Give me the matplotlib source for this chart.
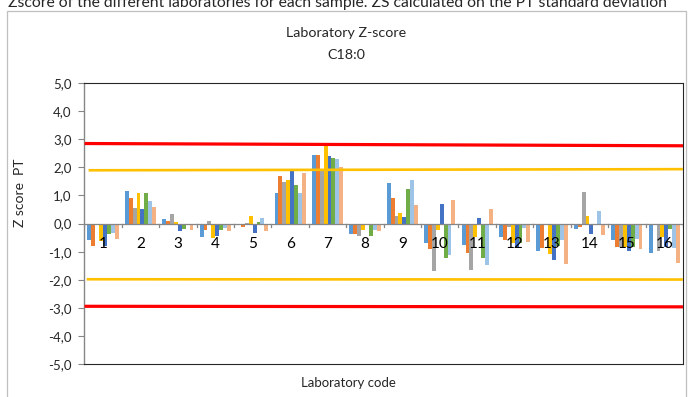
import numpy as np
import matplotlib.pyplot as plt
from matplotlib.patches import Rectangle

plt.rcParams['font.family'] = ['Lato', 'DejaVu Sans']

# samples (laboratory code on the x axis)
samples = [str(i) for i in range(1, 17)]

# one series per laboratory, 8 per sample group
lab_a = [-0.58, 1.15, 0.15, -0.49, 0.0, 1.08, 2.43, -0.37, 1.43, -0.70, -0.76, -0.49, -0.99, -0.18, -0.60, -1.04]
lab_b = [-0.79, 0.89, 0.08, -0.22, -0.14, 1.67, 2.43, -0.39, 0.92, -0.90, -1.03, -0.59, -0.88, -0.13, -0.84, 0.0]
lab_c = [-0.04, 0.56, 0.34, 0.09, 0.02, 1.48, 1.85, -0.46, 0.28, -1.69, -1.66, -0.12, -0.07, 1.11, -0.83, -0.98]
lab_d = [-0.62, 1.08, 0.07, -0.53, 0.25, 1.54, 2.76, -0.24, 0.36, -0.22, -0.47, -0.69, -1.08, 0.26, -0.83, -0.47]
lab_e = [-0.79, 0.51, -0.26, -0.46, -0.32, 1.85, 2.38, 0.0, 0.22, 0.71, 0.21, -0.83, -1.28, -0.37, -0.97, -0.83]
lab_f = [-0.39, 1.08, -0.18, -0.22, 0.07, 1.35, 2.32, -0.44, 1.22, -1.23, -1.23, -0.71, -0.80, 0.0, -0.85, -0.21]
lab_g = [-0.33, 0.79, -0.04, -0.15, 0.19, 1.07, 2.30, -0.24, 1.53, -1.11, -1.46, -0.17, -0.59, 0.43, -0.54, -0.86]
lab_h = [-0.54, 0.59, -0.22, -0.26, -0.26, 1.79, 1.99, -0.27, 0.65, 0.85, 0.51, -0.65, -1.43, -0.40, -0.92, -1.40]
labs = [lab_a, lab_b, lab_c, lab_d, lab_e, lab_f, lab_g, lab_h]
lab_colors = ['#5B9BD5', '#ED7D31', '#A5A5A5', '#FFC000', '#4472C4', '#70AD47', '#9DC3E6', '#F4B183']

# limit lines (value at left end, value at right end)
red_upper = [2.84, 2.76]
red_lower = [-2.94, -2.96]
orange_upper = [1.89, 1.93]
orange_lower = [-1.98, -1.99]

yticks = [5, 4, 3, 2, 1, 0, -1, -2, -3, -4, -5]
ytick_labels = ['5,0', '4,0', '3,0', '2,0', '1,0', '0,0', '-1,0', '-2,0', '-3,0', '-4,0', '-5,0']

fig = plt.figure(figsize=(6.93, 3.97), dpi=100)
ax = fig.add_axes([84.3 / 693, 1 - 364.3 / 397, (683 - 84.3) / 693, (364.3 - 82.7) / 397])

x = np.arange(1, len(samples) + 1)
w = 0.104
for j, (vals, col) in enumerate(zip(labs, lab_colors)):
    ax.bar(x + (j - 3.5) * w, vals, width=w, color=col, zorder=2)

ax.axhline(0, color='#868686', lw=0.9, zorder=3)
for b in np.arange(0.5, len(samples) + 1, 1.0):
    ax.plot([b, b], [0, -0.14], color='#868686', lw=0.9, zorder=3)

ax.plot([0.55, 16.49], red_upper, color='#FF0000', lw=2.3, zorder=4)
ax.plot([0.55, 16.49], red_lower, color='#FF0000', lw=2.3, zorder=4)
ax.plot([0.65, 16.46], orange_upper, color='#FFC000', lw=1.9, zorder=4)
ax.plot([0.6, 16.46], orange_lower, color='#FFC000', lw=1.9, zorder=4)

for xi, s in zip(x, samples):
    ax.text(xi, -0.72, s, ha='center', va='center', fontsize=11, color='black', zorder=5)

ax.set_xlim(0.5, 16.5)
ax.set_ylim(-5, 5)
ax.set_xticks([])
ax.set_yticks(yticks)
ax.set_yticklabels(ytick_labels, fontsize=9.5, color='#262626')
ax.tick_params(axis='y', length=4, color='#868686', pad=5)
ax.spines['left'].set_color('#868686')
for side in ['top', 'right', 'bottom']:
    ax.spines[side].set_color('#262626')
ax.spines['left'].set_linewidth(1.0)

# chart frame and texts
fig.patches.append(Rectangle((7 / 693, -0.05), (686 - 7) / 693, 1.05 - 11 / 397,
                             transform=fig.transFigure, fill=False, edgecolor='#BFBFBF', lw=0.9))
fig.text(8 / 693, 1 - 7 / 397,
         'Zscore of the different laboratories for each sample. ZS calculated on the PT standard deviation',
         fontsize=11.3, ha='left', va='baseline', color='#262626')
fig.text(0.5, 1 - 33 / 397, 'Laboratory Z-score', fontsize=10.3, ha='center', va='center', color='#262626')
fig.text(0.5, 1 - 55 / 397, 'C18:0', fontsize=10.3, ha='center', va='center', color='#262626')
fig.text(20 / 693, 1 - 193 / 397, 'Z score  PT', fontsize=10, rotation=90, ha='center', va='center', color='#262626')
fig.text(348 / 693, 1 - 383 / 397, 'Laboratory code', fontsize=9.5, ha='center', va='center', color='#262626')

fig.savefig('out.png', dpi=100)
